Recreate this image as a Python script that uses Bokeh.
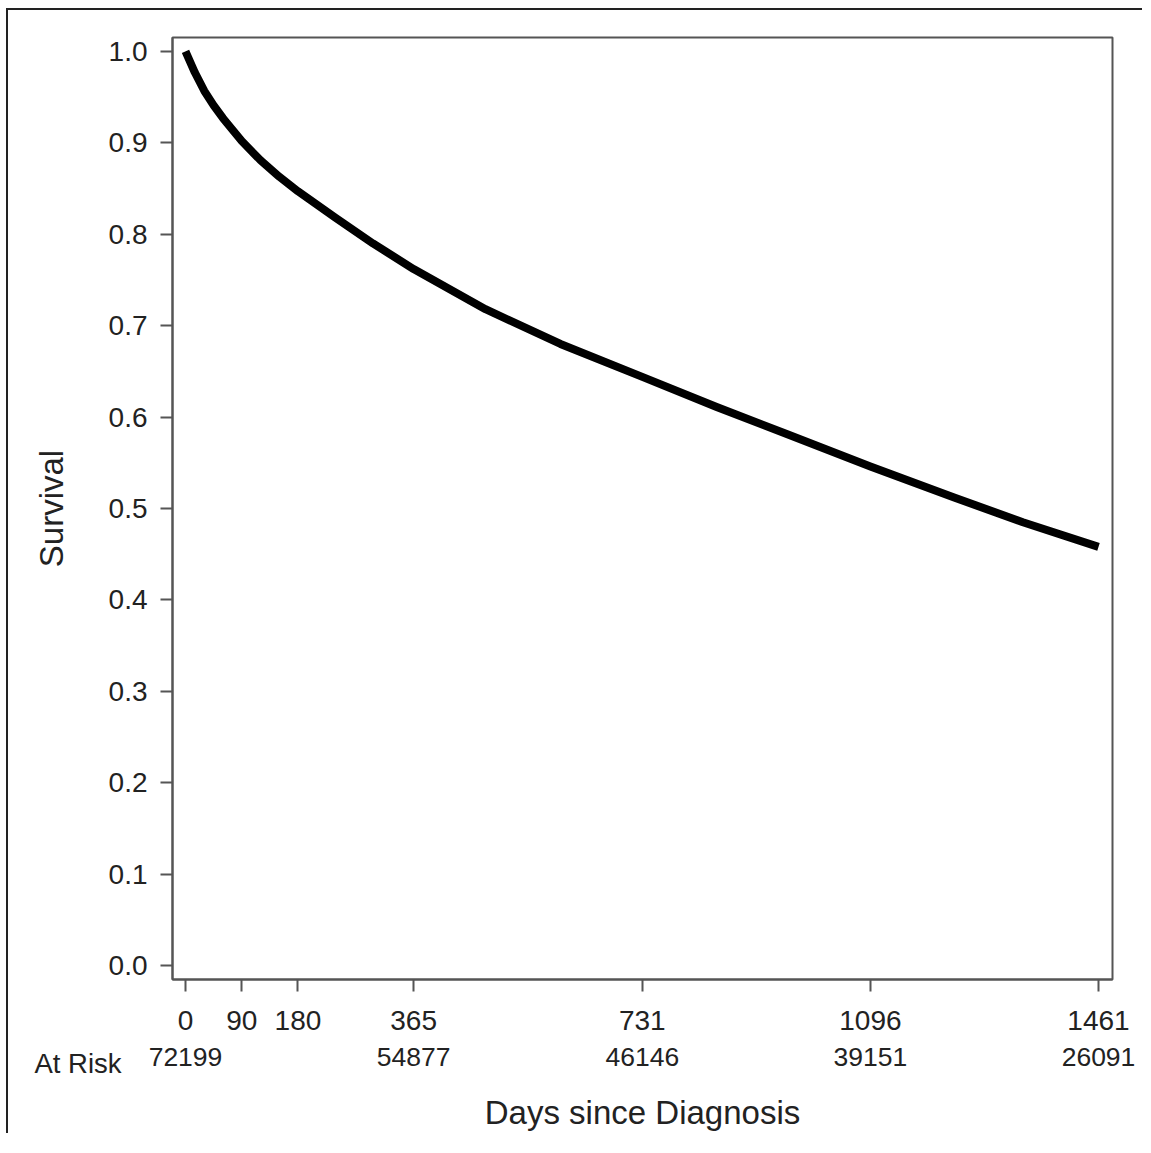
from bokeh.plotting import figure
from bokeh.models import FixedTicker, Range1d, NumeralTickFormatter, LinearAxis, Title
from bokeh.embed import file_html
from bokeh.resources import INLINE

# Survival curve
days = [0, 15, 30, 45, 60, 90, 120, 150, 180, 240, 300, 365, 480, 600, 731,
        850, 960, 1096, 1230, 1340, 1461]
survival = [1.0, 0.977, 0.957, 0.941, 0.927, 0.902, 0.881, 0.863, 0.847, 0.818,
            0.790, 0.762, 0.718, 0.680, 0.644, 0.611, 0.582, 0.546, 0.512, 0.485,
            0.458]

x_ticks = [0, 90, 180, 365, 731, 1096, 1461]
y_ticks = [0.0, 0.1, 0.2, 0.3, 0.4, 0.5, 0.6, 0.7, 0.8, 0.9, 1.0]

at_risk_days = [0, 365, 731, 1096, 1461]
at_risk = [72199, 54877, 46146, 39151, 26091]
at_risk_title = "At Risk"

FONT = "Liberation Sans"
TXT = "#222222"
AX = "#555555"

p = figure(frame_width=940, frame_height=942,
           min_border_left=164, min_border_top=27,
           min_border_right=30, min_border_bottom=10,
           x_range=Range1d(-20.8, 1483.4), y_range=Range1d(-0.0153, 1.0153),
           output_backend="svg", toolbar_location=None)
p.styles = {"border-top": "2px solid #222", "border-left": "2px solid #222",
            "margin-left": "6px", "margin-top": "8px"}
p.outline_line_color = AX
p.outline_line_width = 2
p.xgrid.visible = False
p.ygrid.visible = False

for ax in (p.xaxis[0], p.yaxis[0]):
    ax.axis_line_color = AX
    ax.axis_line_width = 2
    ax.major_tick_line_color = AX
    ax.major_tick_line_width = 2
    ax.major_tick_out = 12
    ax.major_tick_in = 0
    ax.minor_tick_line_color = None
    ax.major_label_text_font = FONT
    ax.major_label_text_font_size = "28px"
    ax.major_label_text_color = TXT
    ax.axis_label_text_font = FONT
    ax.axis_label_text_font_size = "33px"
    ax.axis_label_text_font_style = "normal"
    ax.axis_label_text_color = TXT

p.xaxis.ticker = FixedTicker(ticks=x_ticks)
p.yaxis.ticker = FixedTicker(ticks=y_ticks)
p.yaxis.formatter = NumeralTickFormatter(format="0.0")
p.yaxis.axis_label = "Survival"
p.xaxis.major_label_standoff = 19
p.yaxis.major_label_standoff = 13
p.yaxis.axis_label_standoff = 36

# "At Risk" caption: zero-height panel, text pushed down into the at-risk row
p.add_layout(Title(text=at_risk_title, align="left", vertical_align="bottom",
                   offset=-138, standoff=-93,
                   text_font=FONT, text_font_size="27.5px", text_font_style="normal",
                   text_color=TXT), "below")

# at-risk numbers as a second, line-less axis
risk_axis = LinearAxis(ticker=FixedTicker(ticks=at_risk_days),
                       major_label_overrides={d: str(n) for d, n in zip(at_risk_days, at_risk)},
                       axis_line_color=None, major_tick_line_color=None,
                       major_tick_out=0, major_tick_in=0, minor_tick_line_color=None,
                       major_label_standoff=15,
                       major_label_text_font=FONT, major_label_text_font_size="26.5px",
                       major_label_text_color=TXT)
p.add_layout(risk_axis, "below")

# axis title row
label_axis = LinearAxis(ticker=FixedTicker(ticks=[]),
                        axis_line_color=None, major_tick_line_color=None,
                        major_tick_out=0, major_tick_in=0, minor_tick_line_color=None,
                        major_label_standoff=0,
                        axis_label="Days since Diagnosis", axis_label_standoff=25,
                        axis_label_text_font=FONT, axis_label_text_font_size="33px",
                        axis_label_text_font_style="normal", axis_label_text_color=TXT)
p.add_layout(label_axis, "below")

p.line(days, survival, line_width=8, line_color="black", line_cap="butt", line_join="round")

open("out.html", "w").write(file_html(p, INLINE))
